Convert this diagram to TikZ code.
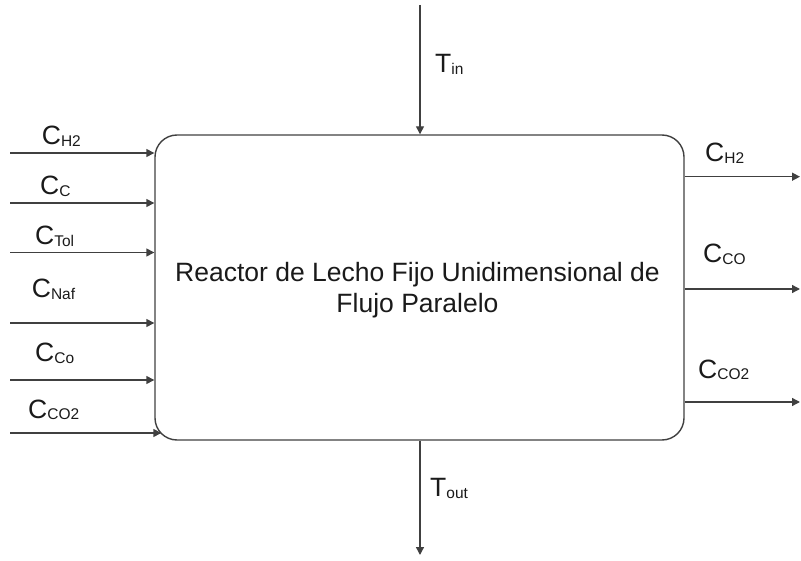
\documentclass[tikz,border=0pt]{standalone}
\usepackage{fontspec}
\setmainfont{Liberation Sans}
\usetikzlibrary{arrows.meta}
\definecolor{linegray}{HTML}{404040}
\definecolor{txt}{HTML}{1A1A1A}
\newcommand{\lsub}[1]{\raisebox{-1.5pt}{\fontsize{15.5}{16}\selectfont #1}}
\begin{document}
\begin{tikzpicture}[x=1pt,y=-1pt,
  line/.style={draw=linegray, line width=1.4pt},
  arr/.style={line, -{Triangle[length=8pt,width=8pt]}},
  lbl/.style={anchor=base west, inner sep=0pt, text=txt, font=\fontsize{26.5}{30}\selectfont},
]
\useasboundingbox (0,0) rectangle (801,561);
\node[line, rounded corners=22pt, minimum width=529pt, minimum height=305pt, inner sep=0pt] (box) at (419.5,287.5) {};
\node[anchor=base, inner sep=0pt, align=center, text=txt, font=\fontsize{26.5}{31}\selectfont] (title) at (417.5,312.7) {Reactor de Lecho Fijo Unidimensional de\\Flujo Paralelo};

% left inputs
\coordinate (l1) at (10,153);
\coordinate (l2) at (10,203);
\coordinate (l3) at (10,252.5);
\coordinate (l4) at (10,323);
\coordinate (l5) at (10,380);
\coordinate (l6) at (10,433);
\draw[arr] (l1) -- (l1 -| box.west);
\draw[arr] (l2) -- (l2 -| box.west);
\draw[arr] (l3) -- (l3 -| box.west);
\draw[arr] (l4) -- (l4 -| box.west);
\draw[arr] (l5) -- (l5 -| box.west);
\draw[arr] (l6) -- ([xshift=7pt]l6 -| box.west);

\node[lbl] (a1) at (41.7,145) {C\lsub{H2}};
\node[lbl] (a2) at (40,195) {C\lsub{C}};
\node[lbl] (a3) at (35,245) {C\lsub{Tol}};
\node[lbl] (a4) at (31.7,298) {C\lsub{Naf}};
\node[lbl] (a5) at (35,361.7) {C\lsub{Co}};
\node[lbl] (a6) at (28,418) {C\lsub{CO2}};

% right outputs
\coordinate (r1) at (800,176.7);
\coordinate (r2) at (800,289);
\coordinate (r3) at (800,402);
\draw[arr] (r1 -| box.east) -- (r1);
\draw[arr] (r2 -| box.east) -- (r2);
\draw[arr] (r3 -| box.east) -- (r3);

\node[lbl] (b1) at (705,161.7) {C\lsub{H2}};
\node[lbl] (b2) at (703,263) {C\lsub{CO}};
\node[lbl] (b3) at (698,378) {C\lsub{CO2}};

% top / bottom
\coordinate (tin) at (420,5);
\coordinate (tout) at (420,555);
\draw[arr] (tin) -- (tin |- box.north);
\draw[arr] (tout |- box.south) -- (tout);
\node[lbl] (c1) at (435,73) {T\lsub{in}};
\node[lbl] (c2) at (430,496.7) {T\lsub{out}};
\end{tikzpicture}
\end{document}
